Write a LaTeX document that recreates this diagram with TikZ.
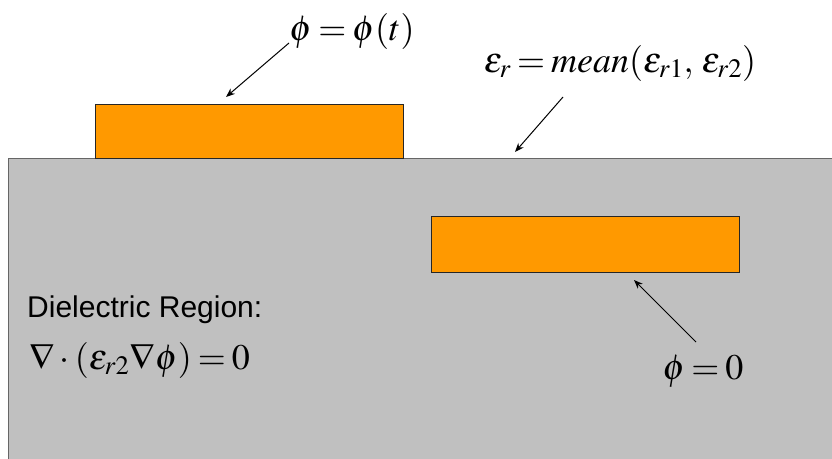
\documentclass[tikz,border=0pt]{standalone}
\usepackage{mathptmx}
\usepackage[no-math]{fontspec}
\setsansfont{Liberation Sans}
\usetikzlibrary{arrows.meta,positioning}
\definecolor{electrode}{RGB}{255,153,0}
\definecolor{substrate}{RGB}{192,192,192}
\thickmuskip=3mu plus 2mu

\begin{document}
\begin{tikzpicture}[
  x=1pt, y=-1pt,
  plate/.style={draw=black!85, fill=electrode, line width=0.8pt, inner sep=0pt},
  eqn/.style={inner sep=0pt, anchor=base, font=\fontsize{36}{42}\selectfont},
  note/.style={inner sep=0pt, anchor=base west, align=left,
               font=\fontsize{30}{36}\selectfont\sffamily},
  arrow/.style={-{Stealth[length=9pt,width=7pt]}, line width=1pt}
]
  \useasboundingbox (0,0) rectangle (832,458);
  % dielectric substrate
  \draw[draw=black!60, fill=substrate, line width=1pt] (8,158) rectangle (836,462);
  % electrodes
  \node[plate, minimum width=308pt, minimum height=54pt] (top) at (249,131) {};
  \node[plate, minimum width=308pt, minimum height=56pt] (bot) at (585,244) {};
  % labels
  \node[eqn] (phit) at (352,40) {$\phi=\phi(t)$};
  \node[eqn] (eps) at (620,72) {$\varepsilon_r=mean(\varepsilon_{r1},\,\varepsilon_{r2})$};
  \node[eqn] (phi0) at (703,379) {$\phi=0$};
  \node[note] (reg) at (27,317) {Dielectric Region:};
  \node[eqn, anchor=base west] (lap) at (29,369) {$\nabla\cdot(\varepsilon_{r2}\nabla\phi)=0$};
  % arrow tips
  \coordinate (tip1) at (226,97);
  \coordinate (tip2) at (515,152);
  \coordinate (tip3) at (634,280);
  \draw[arrow] ([xshift=-63pt, yshift=-3pt]phit.base) -- (tip1);
  \draw[arrow] ([xshift=-57pt, yshift=-25pt]eps.base) -- (tip2);
  \draw[arrow] ([xshift=-7pt, yshift=37pt]phi0.base) -- (tip3);
\end{tikzpicture}
\end{document}
